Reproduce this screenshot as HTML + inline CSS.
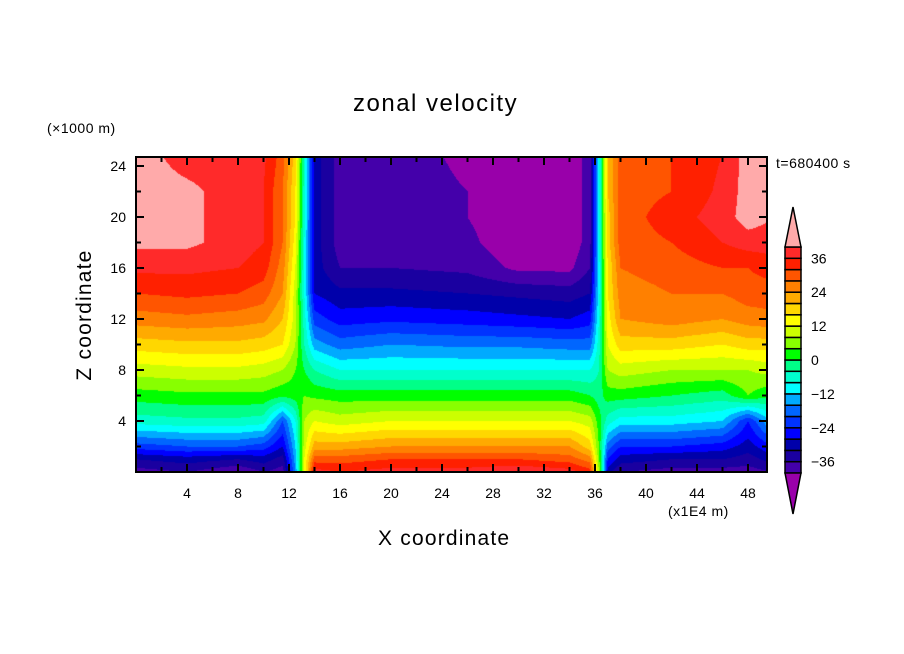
<!DOCTYPE html>
<html><head><meta charset="utf-8">
<style>
body{margin:0;background:#fff;width:904px;height:654px;overflow:hidden;font-family:"Liberation Sans",sans-serif;}
#wrap{position:relative;width:904px;height:654px;}
.t{position:absolute;color:#000;white-space:nowrap;}
canvas{position:absolute;left:136px;top:157px;}
svg{position:absolute;left:0;top:0;}
</style></head>
<body>
<div id="wrap">
<div class="t" style="left:353px;top:90px;font-size:24px;letter-spacing:1.5px;">zonal velocity</div>
<div class="t" style="left:47px;top:120px;font-size:14px;letter-spacing:0.5px;">(×1000 m)</div>
<div class="t" style="left:776px;top:155px;font-size:14px;letter-spacing:0.5px;">t=680400 s</div>
<div class="t" style="left:668px;top:503px;font-size:14px;letter-spacing:0.5px;">(x1E4 m)</div>
<div class="t" style="left:378px;top:527px;font-size:21px;letter-spacing:1.2px;">X coordinate</div>
<div class="t" style="left:85px;top:315px;font-size:21px;letter-spacing:1.2px;transform:translate(-50%,-50%) rotate(-90deg);">Z coordinate</div>
<canvas id="cv" width="631" height="315"></canvas>
<svg id="sv" width="904" height="654"></svg>
</div>
<script>
const levels=[-40,-36,-32,-28,-24,-20,-16,-12,-8,-4,0,4,8,12,16,20,24,28,32,36,40];
const colors=["#9900aa","#4400aa","#1a00a0","#0000aa","#0000ff","#0033ff","#0066ff","#00aaff","#00ffff","#00ffcc","#00ff88","#00ff00","#88ff00","#ccff00","#ffff00","#ffd700","#ffaa00","#ff8000","#ff5500","#ff2000","#ff2a2a","#ffaaaa"];
const cbLabels=[36,24,12,0,-12,-24,-36];
const xTicks=[4,8,12,16,20,24,28,32,36,40,44,48];
const yTicks=[4,8,12,16,20,24];
const xs=[0,4,8,10,11.5,12.5,13.2,14,16,20,26,30,34,35.6,36.3,37,38,42,46,48,50];
const zs=[0,1,2,4,6,8,10,12,14,16,18,20,22,25];
const row0 =[-38,-36,-40,-36,-38,-16,12,38,36,38,38,40,38,34,8,-30,-36,-38,-38,-38,-36];
const row1 =[-32,-30,-32,-30,-34,-14,12,30,30,32,32,32,30,26,6,-24,-30,-32,-32,-34,-30];
const row2 =[-22,-20,-20,-22,-28,-12,10,22,22,24,24,24,24,18,4,-18,-24,-24,-26,-30,-24];
const row4 =[-6,-5,-5,-6,-20,-8,8,12,10,12,12,12,12,10,2,-6,-10,-10,-12,-24,-10];
const row6 =[2,3,3,3,1,2,4,3,2,2,2,2,2,0,-2,2,2,0,-2,4,0];
const row8 =[10,11,11,10,8,4,0,-4,-8,-8,-8,-8,-8,-8,-4,8,10,8,8,8,10];
const row10=[18,19,19,18,16,8,-4,-14,-18,-16,-17,-17,-18,-18,-6,12,18,18,16,18,18];
const row12=[26,27,26,25,20,10,-6,-22,-26,-25,-26,-27,-28,-26,-8,14,24,26,24,26,27];
const row14=[32,33,32,30,24,10,-8,-28,-31,-31,-32,-33,-34,-32,-10,16,26,28,28,30,30];
const row16=[37,37,36,34,26,12,-8,-30,-36,-36,-37,-41,-41,-36,-10,16,28,30,32,32,34];
const row18=[41,41,38,36,28,14,-8,-30,-38,-37,-39,-43,-43,-38,-10,18,30,32,36,38,38];
const row20=[42,40,40,36,28,16,-6,-30,-38,-38,-40,-43,-43,-38,-10,18,30,34,38,42,40];
const row22=[42,41,38,36,28,16,-6,-30,-38,-38,-40,-43,-43,-38,-10,20,30,32,37,42,40];
const row25=[42,38,38,37,30,18,-6,-30,-38,-38,-41,-43,-43,-38,-10,20,30,32,36,42,42];
const grid=[row0,row1,row2,row4,row6,row8,row10,row12,row14,row16,row18,row20,row22,row25];

const X0=136,Y0=472,K=12.75,W=631,H=315;
const sx=v=>X0+v*K, sy=v=>Y0-v*K;
function seg(arr,v){for(let i=0;i<arr.length-1;i++){if(v<=arr[i+1])return i;}return arr.length-2;}
function field(x,z){
  const i=seg(xs,x), j=seg(zs,z);
  let tx=(x-xs[i])/(xs[i+1]-xs[i]), tz=(z-zs[j])/(zs[j+1]-zs[j]);
  tx=Math.max(0,Math.min(1,tx)); tz=Math.max(0,Math.min(1,tz));
  const a=grid[j][i],b=grid[j][i+1],c=grid[j+1][i],d=grid[j+1][i+1];
  return (a*(1-tx)+b*tx)*(1-tz)+(c*(1-tx)+d*tx)*tz;
}
function hex(h){return [parseInt(h.substr(1,2),16),parseInt(h.substr(3,2),16),parseInt(h.substr(5,2),16)];}
const rgb=colors.map(hex);
function cidx(v){let k=0;while(k<levels.length&&v>=levels[k])k++;return k;}
const cv=document.getElementById('cv'),ctx=cv.getContext('2d');
const img=ctx.createImageData(W,H);
for(let py=0;py<H;py++){const z=(Y0-(157+py+0.5))/K;
 for(let px=0;px<W;px++){const x=(px+0.5)/K;const c=rgb[cidx(field(x,z))];const o=(py*W+px)*4;
  img.data[o]=c[0];img.data[o+1]=c[1];img.data[o+2]=c[2];img.data[o+3]=255;}}
ctx.putImageData(img,0,0);

const NS='http://www.w3.org/2000/svg',sv=document.getElementById('sv');
function mk(t,a){const e=document.createElementNS(NS,t);for(const k in a)e.setAttribute(k,a[k]);sv.appendChild(e);return e;}
const frame=mk('rect',{x:X0,y:157,width:W,height:H,fill:'none',stroke:'#000','stroke-width':2});


for(let v=2;v<50;v+=2){const x=sx(v),L=(v%4===0)?8:5;
 mk('line',{x1:x,y1:Y0,x2:x,y2:Y0-L,stroke:'#000','stroke-width':2});
 mk('line',{x1:x,y1:157,x2:x,y2:157+L,stroke:'#000','stroke-width':2});}
for(let v=2;v<25;v+=2){const y=sy(v),L=(v%4===0)?8:5;
 mk('line',{x1:X0,y1:y,x2:X0+L,y2:y,stroke:'#000','stroke-width':2});
 mk('line',{x1:X0+W,y1:y,x2:X0+W-L,y2:y,stroke:'#000','stroke-width':2});}
xTicks.forEach(v=>{const t=mk('text',{x:sx(v),y:498,'text-anchor':'middle','font-size':14,'font-family':'Liberation Sans, sans-serif'});t.textContent=v;
 
 });
yTicks.forEach(v=>{const t=mk('text',{x:126,y:sy(v)+5,'text-anchor':'end','font-size':14,'font-family':'Liberation Sans, sans-serif'});t.textContent=v;
 
 });
const CBX=785,CBW=16,CBT=247,CBB=473;
const cbY=v=>CBT+(40-v)/80*(CBB-CBT);
for(let k=1;k<levels.length;k++){
 const r=mk('rect',{x:CBX,y:cbY(levels[k]),width:CBW,height:cbY(levels[k-1])-cbY(levels[k]),fill:colors[k],stroke:'#000','stroke-width':1.5});
 
 }
const up=mk('polygon',{points:`${CBX},${CBT} ${CBX+CBW},${CBT} ${CBX+CBW/2},207`,fill:colors[21],stroke:'#000','stroke-width':1.5});


const dn=mk('polygon',{points:`${CBX},${CBB} ${CBX+CBW},${CBB} ${CBX+CBW/2},514`,fill:colors[0],stroke:'#000','stroke-width':1.5});


cbLabels.forEach(v=>{const t=mk('text',{x:811,y:cbY(v)+5,'font-size':14,'font-family':'Liberation Sans, sans-serif'});t.textContent=(v<0?'\u2212'+(-v):v);
 
 });
</script>
</body></html>
